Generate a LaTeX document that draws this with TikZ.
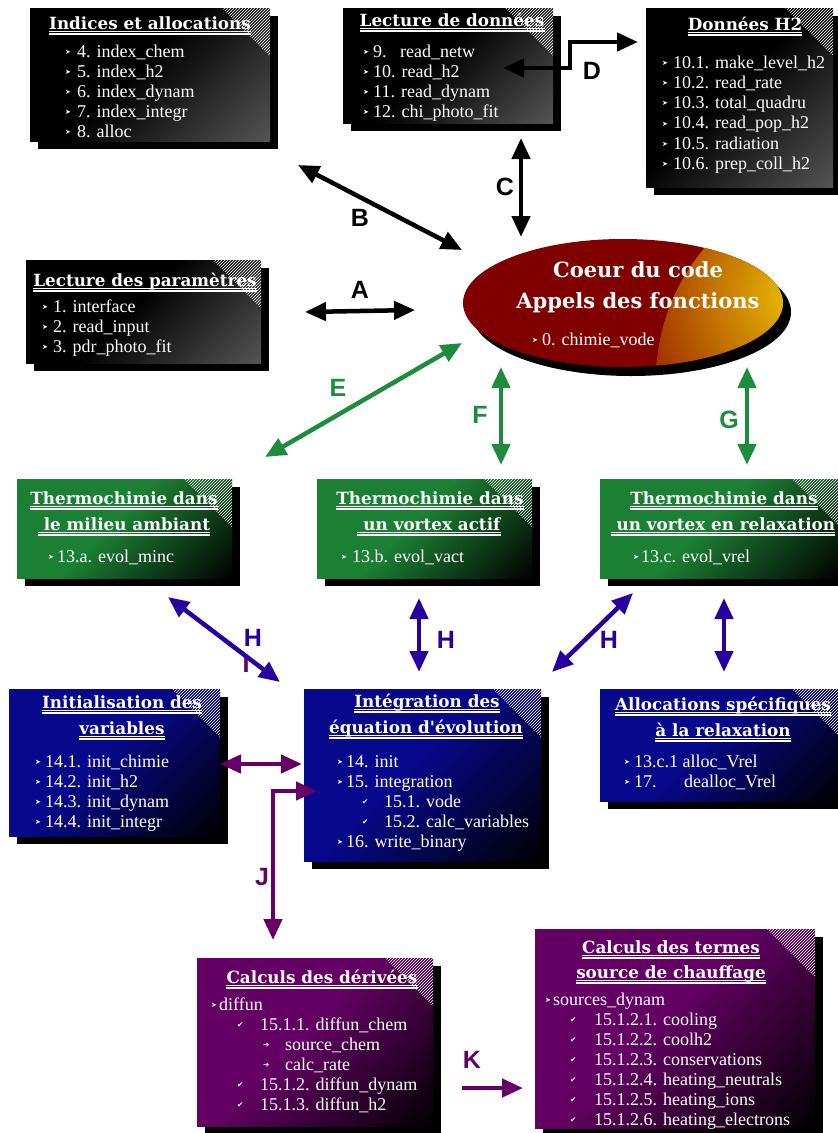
\documentclass[tikz,border=0pt]{standalone}
\usepackage{fontspec}
\newfontfamily\itemfont{Liberation Serif}
\newfontfamily\symfont{DejaVu Sans}
\newfontfamily\lblfont{Liberation Sans}
\newfontfamily\ttlfont{DejaVu Serif}
\usetikzlibrary{arrows.meta,patterns,shapes.geometric}
\definecolor{grA}{RGB}{28,128,52}
\definecolor{blA}{RGB}{8,8,140}
\definecolor{puA}{RGB}{100,0,100}
\definecolor{blkB}{RGB}{85,85,85}
\definecolor{arGreen}{RGB}{30,140,60}
\definecolor{arBlue}{RGB}{40,0,160}
\definecolor{arPurple}{RGB}{102,0,102}
\definecolor{coreRed}{RGB}{128,0,0}
\definecolor{coreGold}{RGB}{235,190,0}
\definecolor{coreEdge}{RGB}{150,30,0}
\colorlet{panelA}{black}
\colorlet{panelB}{black}
\pgfdeclarehorizontalshading[panelA,panelB]{panelshade}{100bp}{color(0bp)=(panelA); color(46bp)=(panelA); color(86bp)=(panelB); color(100bp)=(panelB)}
\newcommand\bulA{{\fontsize{7}{7}\selectfont ➤}}
\newcommand\bulC{{\fontsize{7.5}{8}\selectfont ✔}}
\newcommand\bulR{{\fontsize{7.5}{8}\selectfont ➔}}
\newcommand\itm[6]{\node[bul] (#1b) at (#3,#5) {#2}; \node[itm] (#1) at (#4,#5) {#6};}
\newcommand\ttl[4]{\node[ttl] (#1) at (#2,#3) {#4};
  \draw[ul] ([yshift=-2.3pt]#1.base west) -- ([yshift=-2.3pt]#1.base east);
  \draw[ul] ([yshift=-5pt]#1.base west) -- ([yshift=-5pt]#1.base east);}
\newcommand\panel[7]{%
  \fill[black] ({#2+8},{#3+8}) rectangle ({#4+8},{#5+8});
  \node[panelbox={#6}{#7}, minimum width={(#4-#2)*1pt}, minimum height={(#5-#3)*1pt}] (#1) at (#2,#3) {};}
\tikzset{
  panel colors/.code 2 args={\colorlet{panelA}{#1}\colorlet{panelB}{#2}},
  panelbox/.style 2 args={panel colors={#1}{#2}, shade, shading=panelshade, shading angle=-45,
    inner sep=0pt, outer sep=0pt, anchor=north west,
    path picture={\fill[pattern=north east lines, pattern color=white, fill opacity=0.13]
      ([xshift=-48pt]path picture bounding box.north east) -- (path picture bounding box.north east)
      -- ([yshift=-48pt]path picture bounding box.north east) -- cycle;}},
  core/.style={ellipse, fill=coreRed, minimum width=320pt, minimum height=128pt, inner sep=0pt,
    path picture={\begin{scope}
      \clip ([xshift=77pt,yshift=-77pt]path picture bounding box.east) circle (204pt);
      \shade[inner color=coreGold, outer color=coreEdge] ([xshift=12pt,yshift=6pt]path picture bounding box.east) circle (175pt);
      \end{scope}}},
  itm/.style={text=white, font=\itemfont\fontsize{18}{20}\selectfont, inner sep=0pt, anchor=base west},
  bul/.style={text=white, font=\symfont, inner sep=0pt, anchor=base west, yshift=2.5pt},
  ttl/.style={text=white, font=\ttlfont\bfseries\fontsize{16.8}{22}\selectfont, inner sep=0pt, anchor=base},
  ctitle/.style={text=white, font=\ttlfont\bfseries\fontsize{21}{26}\selectfont, inner sep=0pt, anchor=base},
  ul/.style={white, line width=1.2pt},
  lbl/.style={font=\lblfont\bfseries\fontsize{25}{25}\selectfont, inner sep=0pt},
  bigtri/.tip={Triangle[length=21pt,width=18pt]},
  arr/.style={line width=4.5pt, bigtri-bigtri},
  arrone/.style={line width=4.5pt, -bigtri},
}
\begin{document}
\begin{tikzpicture}[x=1pt,y=-1pt]
\useasboundingbox (0,0) rectangle (838,1133);
\fill[white] (0,0) rectangle (838,1133);
% panels
\panel{idx}{30}{8}{270}{141}{black}{blkB}
\panel{lect}{343}{8}{553}{123}{black}{blkB}
\panel{dh2}{646}{8}{833}{187}{black}{blkB}
\panel{par}{26}{260}{261}{363}{black}{blkB}
\panel{g1}{17}{479}{232}{578}{grA}{black}
\panel{g2}{317}{479}{532}{578}{grA}{black}
\panel{g3}{600}{479}{840}{578}{grA}{black}
\panel{b1}{9}{689}{220}{836}{blA}{black}
\panel{b2}{304}{689}{541}{861}{blA}{black}
\panel{b3}{600}{689}{840}{801}{blA}{black}
\panel{p1}{197}{958}{433}{1126}{puA}{black}
\panel{p2}{535}{929}{815}{1128}{puA}{black}
% core ellipse
\fill[black] (631,312) ellipse (160 and 64);
\node[core] (core) at (623,303) {};
\node[ctitle] (coreT1) at (638,277) {Coeur du code};
\node[ctitle] (coreT2) at (638,308) {Appels des fonctions};
\itm{core1}{\bulA}{532}{542}{345}{0. chimie\_vode}
% Indices et allocations
\ttl{idxT}{150}{29}{Indices et allocations}
\itm{idx1}{\bulA}{65}{77}{57}{4. index\_chem}
\itm{idx2}{\bulA}{65}{77}{77}{5. index\_h2}
\itm{idx3}{\bulA}{65}{77}{97}{6. index\_dynam}
\itm{idx4}{\bulA}{65}{77}{117}{7. index\_integr}
\itm{idx5}{\bulA}{65}{77}{137}{8. alloc}
% Lecture de donnees
\ttl{lectT}{452}{26}{Lecture de données}
\itm{lect1}{\bulA}{363}{373}{57}{\makebox[27pt][l]{9.}read\_netw}
\itm{lect2}{\bulA}{363}{373}{77}{10. read\_h2}
\itm{lect3}{\bulA}{363}{373}{97}{11. read\_dynam}
\itm{lect4}{\bulA}{363}{373}{117}{12. chi\_photo\_fit}
% Donnees H2
\ttl{dh2T}{745}{30}{Données H2}
\itm{dh21}{\bulA}{662}{673}{68}{10.1. make\_level\_h2}
\itm{dh22}{\bulA}{662}{673}{88}{10.2. read\_rate}
\itm{dh23}{\bulA}{662}{673}{108}{10.3. total\_quadru}
\itm{dh24}{\bulA}{662}{673}{128.5}{10.4. read\_pop\_h2}
\itm{dh25}{\bulA}{662}{673}{149}{10.5. radiation}
\itm{dh26}{\bulA}{662}{673}{169}{10.6. prep\_coll\_h2}
% Lecture des parametres
\ttl{parT}{145}{286}{Lecture des paramètres}
\itm{par1}{\bulA}{42}{53}{312}{1. interface}
\itm{par2}{\bulA}{42}{53}{332}{2. read\_input}
\itm{par3}{\bulA}{42}{53}{352}{3. pdr\_photo\_fit}
% green
\ttl{g1Ta}{124}{504}{Thermochimie dans}
\ttl{g1Tb}{124}{530}{\ le milieu ambiant}
\itm{g1i}{\bulA}{48}{57}{562}{13.a. evol\_minc}
\ttl{g2Ta}{430}{504}{Thermochimie dans}
\ttl{g2Tb}{429}{530}{\ un vortex actif}
\itm{g2i}{\bulA}{341}{352}{562}{13.b. evol\_vact}
\ttl{g3Ta}{724}{504}{Thermochimie dans}
\ttl{g3Tb}{723}{530}{\ un vortex en relaxation}
\itm{g3i}{\bulA}{633}{641}{562}{13.c. evol\_vrel}
% blue
\ttl{b1Ta}{122}{708}{Initialisation des}
\ttl{b1Tb}{122}{734}{variables}
\itm{b11}{\bulA}{35}{45}{767}{14.1. init\_chimie}
\itm{b12}{\bulA}{35}{45}{787}{14.2. init\_h2}
\itm{b13}{\bulA}{35}{45}{807}{14.3. init\_dynam}
\itm{b14}{\bulA}{35}{45}{827}{14.4. init\_integr}
\ttl{b2Ta}{427}{707}{Intégration des\ }
\ttl{b2Tb}{426}{733}{équation d'évolution}
\itm{b21}{\bulA}{337}{346}{767}{14. init}
\itm{b22}{\bulA}{337}{346}{787}{15. integration}
\itm{b23}{\bulC}{362}{384}{807}{15.1. vode}
\itm{b24}{\bulC}{362}{384}{827}{15.2. calc\_variables}
\itm{b25}{\bulA}{337}{346}{847}{16. write\_binary}
\ttl{b3Ta}{723}{710}{Allocations spécifiques}
\ttl{b3Tb}{723}{736}{à la relaxation}
\itm{b31}{\bulA}{624}{634}{767}{13.c.1 alloc\_Vrel}
\itm{b32}{\bulA}{624}{634}{787}{\makebox[50pt][l]{17.}dealloc\_Vrel}
% purple
\ttl{p1T}{322}{983}{Calculs des dérivées}
\itm{p11}{\bulA}{211}{219}{1010}{diffun}
\itm{p12}{\bulC}{237}{260}{1030}{15.1.1. diffun\_chem}
\itm{p13}{\bulR}{263}{285}{1050}{source\_chem}
\itm{p14}{\bulR}{263}{285}{1070}{calc\_rate}
\itm{p15}{\bulC}{237}{260}{1090}{15.1.2. diffun\_dynam}
\itm{p16}{\bulC}{237}{260}{1110}{15.1.3. diffun\_h2}
\ttl{p2Ta}{671}{953}{Calculs des termes\ }
\ttl{p2Tb}{671}{978}{source de chauffage}
\itm{p21}{\bulA}{545}{553}{1005}{sources\_dynam}
\itm{p22}{\bulC}{570}{594}{1025}{15.1.2.1. cooling}
\itm{p23}{\bulC}{570}{594}{1045}{15.1.2.2. coolh2}
\itm{p24}{\bulC}{570}{594}{1065}{15.1.2.3. conservations}
\itm{p25}{\bulC}{570}{594}{1085}{15.1.2.4. heating\_neutrals}
\itm{p26}{\bulC}{570}{594}{1105}{15.1.2.5. heating\_ions}
\itm{p27}{\bulC}{570}{594}{1125}{15.1.2.6. heating\_electrons}
% arrow end points
\coordinate (Aa) at (305,312); \coordinate (Ab) at (415,310);
\coordinate (Ba) at (298,165); \coordinate (Bb) at (462,250);
\coordinate (Ca) at (521,138); \coordinate (Cb) at (521,237);
\coordinate (Da) at (503,68); \coordinate (Db) at (570,68); \coordinate (Dc) at (570,42); \coordinate (Dd) at (638,42);
\coordinate (Ea) at (265,457); \coordinate (Eb) at (462,343);
\coordinate (Fa) at (501,367); \coordinate (Fb) at (501,465);
\coordinate (Ga) at (747,367); \coordinate (Gb) at (747,465);
\coordinate (H1a) at (168,597); \coordinate (H1b) at (280,682);
\coordinate (H2a) at (419,598); \coordinate (H2b) at (419,672);
\coordinate (H3a) at (633,593); \coordinate (H3b) at (552,672);
\coordinate (H4a) at (724,598); \coordinate (H4b) at (724,672);
\coordinate (Pa) at (220,764); \coordinate (Pb) at (302,764);
\coordinate (Ja) at (273,940); \coordinate (Jb) at (273,791); \coordinate (Jc) at (317,791);
\coordinate (Ka) at (462,1088); \coordinate (Kb) at (523,1088);
% labels and arrows
\node[lbl, arPurple] (Il) at (246,664) {I};
\draw[arr] (Aa) -- (Ab);
\draw[arr] (Ba) -- (Bb);
\draw[arr] (Ca) -- (Cb);
\draw[arr] (Da) -- (Db) -- (Dc) -- (Dd);
\node[lbl] (Al) at (360,290) {A};
\node[lbl] (Bl) at (360,218) {B};
\node[lbl] (Cl) at (505,187) {C};
\node[lbl] (Dl) at (592,71) {D};
\draw[arr, arGreen] (Ea) -- (Eb);
\draw[arr, arGreen] (Fa) -- (Fb);
\draw[arr, arGreen] (Ga) -- (Gb);
\node[lbl, arGreen] (El) at (338,388) {E};
\node[lbl, arGreen] (Fl) at (480,415) {F};
\node[lbl, arGreen] (Gl) at (729,420) {G};
\draw[arr, arBlue] (H1a) -- (H1b);
\draw[arr, arBlue] (H2a) -- (H2b);
\draw[arr, arBlue] (H3a) -- (H3b);
\draw[arr, arBlue] (H4a) -- (H4b);
\node[lbl, arBlue] (H1l) at (253,638) {H};
\node[lbl, arBlue] (H2l) at (446,640) {H};
\node[lbl, arBlue] (H3l) at (609,640) {H};
\draw[arr, arPurple] (Pa) -- (Pb);
\draw[arr, arPurple] (Ja) -- (Jb) -- (Jc);
\draw[arrone, arPurple] (Ka) -- (Kb);
\node[lbl, arPurple] (Jl) at (262,877) {J};
\node[lbl, arPurple] (Kl) at (472,1060) {K};
\end{tikzpicture}
\end{document}
